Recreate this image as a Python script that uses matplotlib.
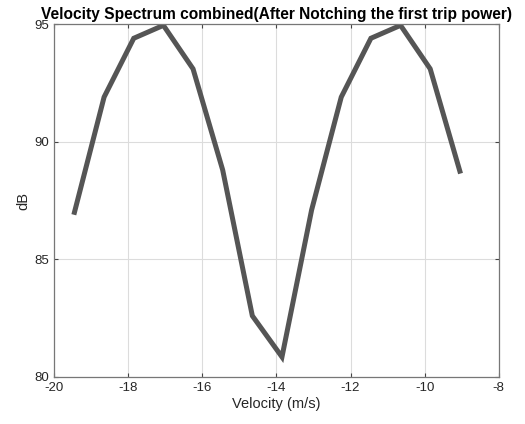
import matplotlib
matplotlib.use("Agg")
import matplotlib.pyplot as plt

# velocity bins (m/s) and combined spectrum level (dB)
velocity = [-19.45, -18.65, -17.85, -17.05, -16.25, -15.45, -14.65,
            -13.85, -13.05, -12.25, -11.45, -10.65, -9.85, -9.05]
power_db = [87.0, 91.9, 94.4, 94.95, 93.1, 88.8, 82.6,
            80.85, 87.1, 91.9, 94.4, 94.95, 93.1, 88.75]
xticks = [-20, -18, -16, -14, -12, -10, -8]
yticks = [80, 85, 90, 95]

plt.rcParams['font.family'] = ['Liberation Sans', 'DejaVu Sans']
plt.rcParams['axes.unicode_minus'] = False

fig = plt.figure(figsize=(5.25, 4.24), dpi=100)
ax = fig.add_axes([0.103, 0.111, 0.847, 0.832])

ax.plot(velocity, power_db, color='#555555', lw=3.6, solid_joinstyle='miter')

ax.set_xlim(-20, -8)
ax.set_ylim(80, 95)
ax.set_xticks(xticks)
ax.set_yticks(yticks)
ax.grid(True, color='#dcdcdc', lw=0.8)
ax.set_axisbelow(True)
ax.tick_params(direction='in', top=True, right=True, length=3,
               labelsize=9.5, color='#444444', labelcolor='#262626')
for s in ax.spines.values():
    s.set_color('#777777')
    s.set_linewidth(0.9)

ax.set_xlabel('Velocity (m/s)', fontsize=10.5, color='#262626', labelpad=2)
ax.set_ylabel('dB', fontsize=10.5, color='#262626', labelpad=3)
ax.set_title('Velocity Spectrum combined(After Notching the first trip power)',
             fontsize=11.2, fontweight='bold', pad=4)

fig.savefig('out.png', dpi=100)
